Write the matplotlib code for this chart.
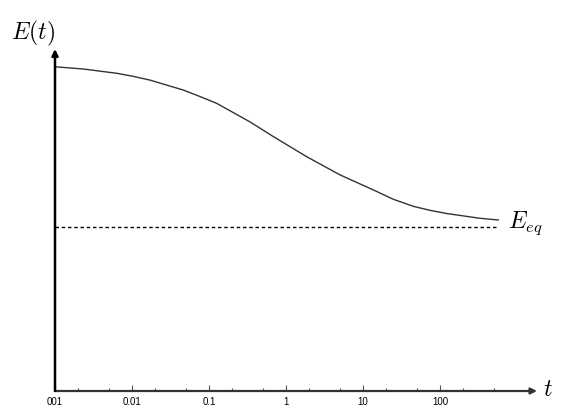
import matplotlib.pyplot as plt
from matplotlib.ticker import LogLocator, NullFormatter

plt.rcParams['mathtext.fontset'] = 'cm'

# values
t = [0.001, 0.00233, 0.00632, 0.0104, 0.01715, 0.0463, 0.0764, 0.126, 0.340, 0.684,
     1.86, 5.02, 13.6, 24.5, 45.0, 75.0, 122, 331, 572]
E = [0.948, 0.9415, 0.929, 0.920, 0.909, 0.880, 0.861, 0.841, 0.787, 0.744,
     0.685, 0.632, 0.588, 0.561, 0.540, 0.528, 0.519, 0.505, 0.500]
E_eq = 0.480
t_end = 572
tick_vals = [0.001, 0.01, 0.1, 1, 10, 100]
tick_labels = ['001', '0.01', '0.1', '1', '10', '100']

W, H = 581, 415
fig = plt.figure(figsize=(W / 100, H / 100), dpi=100)
ax = fig.add_axes([55 / W, (H - 391) / H, (537 - 55) / W, (391 - 49) / H])
ax.set_xscale('log')
ax.set_xlim(0.001, 10 ** (-3 + (537 - 55) / 77))
ax.set_ylim(0, 1)

ax.plot(t, E, color='#333333', lw=1)
ax.plot([t[0], t_end], [E_eq, E_eq], color='black', lw=1, linestyle=(0, (2.5, 2)))

for s in ax.spines.values():
    s.set_visible(False)

# axes with arrows
ax.annotate('', xy=(1.0, 0), xytext=(0, 0), xycoords='axes fraction',
            arrowprops=dict(arrowstyle='-|>', color='#333333', lw=1.6,
                            mutation_scale=9, shrinkA=0, shrinkB=0))
ax.annotate('', xy=(0, 1.0), xytext=(0, 0), xycoords='axes fraction',
            arrowprops=dict(arrowstyle='-|>', color='black', lw=1.8,
                            mutation_scale=9, shrinkA=0, shrinkB=0))

ax.set_yticks([])
ax.set_xticks(tick_vals)
ax.set_xticklabels(tick_labels, family='Liberation Sans', fontsize=7)
ax.xaxis.set_minor_locator(LogLocator(base=10, subs=(2, 5)))
ax.xaxis.set_minor_formatter(NullFormatter())
ax.tick_params(axis='x', which='both', direction='in', color='#555555', pad=4)
ax.tick_params(axis='x', which='major', length=4, width=0.8)
ax.tick_params(axis='x', which='minor', length=2.5, width=0.8)

fig.text(11 / W, 1 - 33 / H, r'$E(t)$', fontsize=17, va='center', ha='left')
fig.text(543 / W, 1 - 389 / H, r'$t$', fontsize=17, va='center', ha='left')
fig.text(508 / W, 1 - 223 / H, r'$E_{eq}$', fontsize=17, va='center', ha='left')

fig.savefig('out.png', dpi=100)
